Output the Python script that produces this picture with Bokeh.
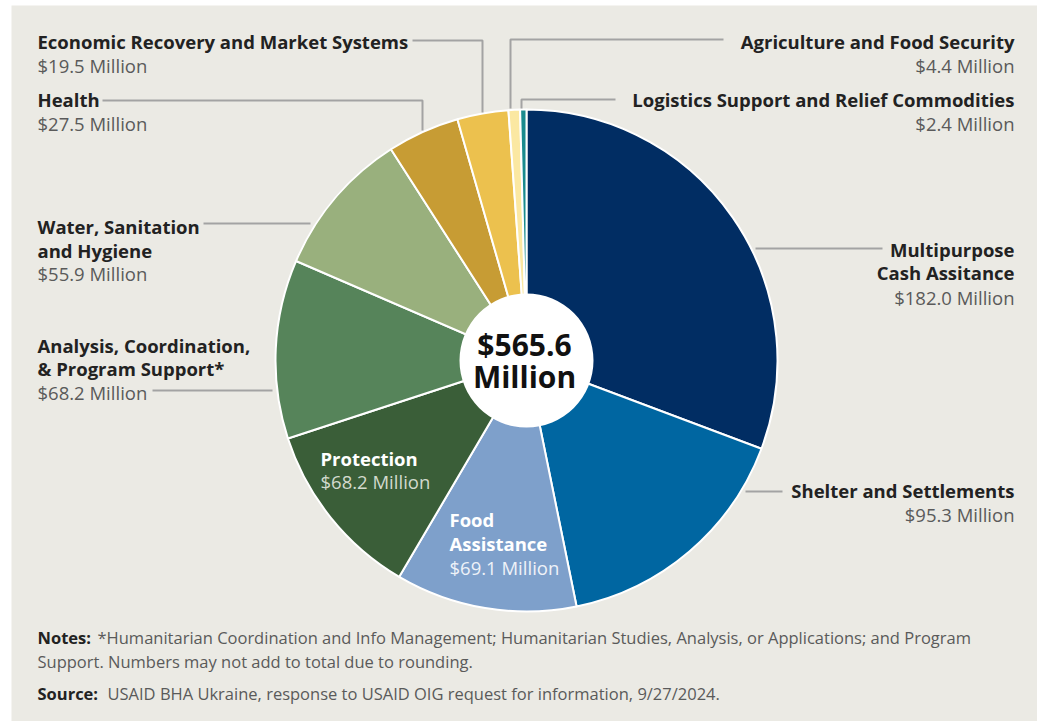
import numpy as np
from bokeh.plotting import figure
from bokeh.models import Range1d, ColumnDataSource
from bokeh.core.properties import value
from bokeh.embed import file_html
from bokeh.resources import INLINE

# ---------------- data ----------------
categories = [
    "Multipurpose Cash Assitance",
    "Shelter and Settlements",
    "Food Assistance",
    "Protection",
    "Analysis, Coordination, & Program Support*",
    "Water, Sanitation and Hygiene",
    "Health",
    "Economic Recovery and Market Systems",
    "Agriculture and Food Security",
    "Logistics Support and Relief Commodities",
]
values = [182.0, 95.3, 69.1, 68.2, 68.2, 55.9, 27.5, 19.5, 4.4, 2.4]
value_labels = ["$182.0 Million", "$95.3 Million", "$69.1 Million", "$68.2 Million",
                "$68.2 Million", "$55.9 Million", "$27.5 Million", "$19.5 Million",
                "$4.4 Million", "$2.4 Million"]
colors = ["#012d63", "#0066a1", "#7ea0cb", "#3a5e38", "#56845a",
          "#99b07d", "#c79c34", "#ecc14e", "#fbe8a2", "#1a8b8e"]
total_label = ["$565.6", "Million"]
notes_text = ["*Humanitarian Coordination and Info Management; Humanitarian Studies, Analysis, or Applications; and Program",
              "Support. Numbers may not add to total due to rounding."]
source_text = "USAID BHA Ukraine, response to USAID OIG request for information, 9/27/2024."

# ---------------- layout helpers ----------------
W, H = 1037, 721
def Y(py):
    return H - py

PANEL = "#ebeae4"
FONT = value("Open Sans")
DARK = "#222222"
GREY = "#5a5a5a"
LEAD = "#a3a3a3"

p = figure(width=W, height=H, x_range=Range1d(0, W), y_range=Range1d(0, H),
           output_backend="svg", toolbar_location=None,
           x_axis_type=None, y_axis_type=None, min_border=0)
p.grid.visible = False
p.outline_line_color = None
p.background_fill_color = "white"
p.border_fill_color = "white"

p.quad(left=11, right=W, top=Y(5), bottom=0, fill_color=PANEL, line_color=None)

# ---------------- pie ----------------
cx, cy, R, r_in = 526, Y(360), 251, 67
vals = np.array(values)
tot = vals.sum()
cum = np.concatenate([[0], np.cumsum(vals)])
end_a = np.pi / 2 - cum[:-1] / tot * 2 * np.pi
start_a = np.pi / 2 - cum[1:] / tot * 2 * np.pi
src = ColumnDataSource(dict(start=start_a, end=end_a, color=colors, cat=categories))
p.wedge(x=cx, y=cy, radius=R, start_angle="start", end_angle="end",
        fill_color="color", line_color="white", line_width=2, source=src)
p.circle(x=[cx], y=[cy], radius=r_in, fill_color="white", line_color=None)

# ---------------- leader lines ----------------
lead_xs = [
    [412, 482, 482],      # Economic
    [102, 422, 422],      # Health
    [203, 310],           # WASH
    [152, 272],           # Analysis
    [723, 510, 510],      # Agriculture
    [615, 521, 521],      # Logistics
    [882, 755],           # Multipurpose
    [782, 745],           # Shelter
]
lead_ys = [
    [Y(40), Y(40), Y(112)],
    [Y(100), Y(100), Y(130)],
    [Y(223), Y(223)],
    [Y(390), Y(390)],
    [Y(39), Y(39), Y(108)],
    [Y(99), Y(99), Y(108)],
    [Y(248), Y(248)],
    [Y(491), Y(491)],
]
p.multi_line(xs=lead_xs, ys=lead_ys, line_color=LEAD, line_width=2)

def txt(x, py, s, size, color, bold=False, align="left"):
    p.text(x=[x], y=[Y(py)], text=[s], text_font=FONT, text_font_size=f"{size}px",
           text_font_style="bold" if bold else "normal", text_color=color,
           text_align=align, text_baseline="middle")

BS, VS = 18.5, 18.5
LX, RX = 37, 1014
# left labels
txt(LX, 41, categories[7], BS, DARK, True)
txt(LX, 65, value_labels[7], VS, GREY)
txt(LX, 99, categories[6], BS, DARK, True)
txt(LX, 123, value_labels[6], VS, GREY)
txt(LX, 226, "Water, Sanitation", BS, DARK, True)
txt(LX, 250, "and Hygiene", BS, DARK, True)
txt(LX, 273, value_labels[5], VS, GREY)
txt(LX, 345, "Analysis, Coordination,", BS, DARK, True)
txt(LX, 368, "& Program Support*", BS, DARK, True)
txt(LX, 392, value_labels[4], VS, GREY)
# right labels
txt(RX, 41, categories[8], BS, DARK, True, "right")
txt(RX, 65, value_labels[8], VS, GREY, False, "right")
txt(RX, 99, categories[9], BS, DARK, True, "right")
txt(RX, 123, value_labels[9], VS, GREY, False, "right")
txt(RX, 249, "Multipurpose", BS, DARK, True, "right")
txt(RX, 272, "Cash Assitance", BS, DARK, True, "right")
txt(RX, 297, value_labels[0], VS, GREY, False, "right")
txt(RX, 490, categories[1], BS, DARK, True, "right")
txt(RX, 514, value_labels[1], VS, GREY, False, "right")
# inside labels
txt(320, 458, categories[3], BS, "white", True)
txt(320, 481, value_labels[3], VS, "#d2dacd")
txt(449, 519, "Food", BS, "white", True)
txt(449, 543, "Assistance", BS, "white", True)
txt(449, 567, value_labels[2], VS, "#eef2f8")
# center
txt(cx - 2, 344, total_label[0], 30, "#111111", True, "center")
txt(cx - 2, 376, total_label[1], 30, "#111111", True, "center")

# notes
NS = 16.5
txt(LX, 637, "Notes:", NS, DARK, True)
txt(97, 637, notes_text[0], NS, GREY)
txt(LX, 661, notes_text[1], NS, GREY)
txt(LX, 693, "Source:", NS, DARK, True)
txt(107, 693, source_text, NS, GREY)

open("out.html", "w").write(file_html(p, INLINE))
